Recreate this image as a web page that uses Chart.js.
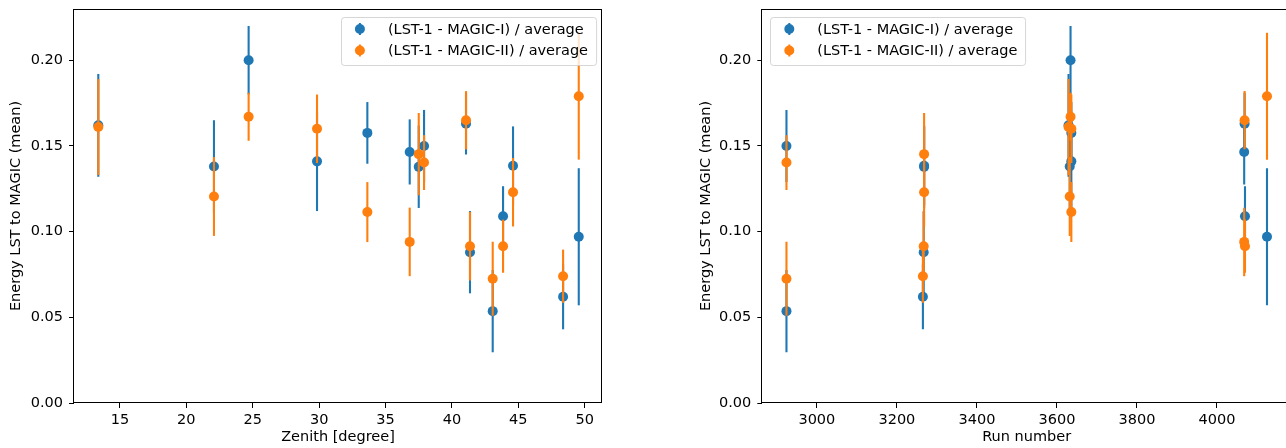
<!DOCTYPE html>
<html>
<head>
<meta charset="utf-8">
<script src="https://cdn.jsdelivr.net/npm/chart.js@4.4.0/dist/chart.umd.min.js"></script>
<style>
  html, body { margin: 0; padding: 0; background: #fff; overflow: hidden; }
  #wrap { position: relative; width: 1286px; height: 448px; overflow: hidden; }
  canvas { position: absolute; top: 0; }
  #zenithChart { left: 0; }
  #runChart { left: 690px; }
</style>
</head>
<body>
<div id="wrap">
  <canvas id="zenithChart" width="615" height="448"></canvas>
  <canvas id="runChart" width="610" height="448"></canvas>
</div>
<script>
// one entry per run
const zenith = [13.37, 22.08, 24.69, 29.84, 33.63, 36.82, 37.50, 37.90, 41.06, 41.36, 43.07, 43.85, 44.60, 48.37, 49.55];
const runNumber = [3629, 3632, 3634, 3636, 3636, 4068, 3268, 2924, 4069, 3267, 2924, 4070, 3268, 3265, 4125];

const ratioMagic1 = [0.162, 0.138, 0.200, 0.141, 0.1576, 0.1465, 0.1378, 0.150, 0.163, 0.088, 0.0536, 0.109, 0.1384, 0.062, 0.097];
const errMagic1 = [0.030, 0.027, 0.020, 0.029, 0.018, 0.019, 0.024, 0.021, 0.018, 0.024, 0.024, 0.0175, 0.023, 0.019, 0.040];
const ratioMagic2 = [0.161, 0.1205, 0.167, 0.160, 0.1114, 0.094, 0.1452, 0.1403, 0.165, 0.0915, 0.0725, 0.0915, 0.123, 0.074, 0.179];
const errMagic2 = [0.028, 0.023, 0.014, 0.020, 0.0175, 0.020, 0.024, 0.016, 0.017, 0.020, 0.0216, 0.0155, 0.020, 0.0155, 0.037];

const seriesLabels = ['(LST-1 - MAGIC-I) / average', '(LST-1 - MAGIC-II) / average'];
const seriesColors = ['#1f77b4', '#ff7f0e'];

const FONT = { family: '"DejaVu Sans", sans-serif', size: 14.5, lineHeight: 1.2 };

// vertical error bars, drawn just before the points of the same dataset
const errorBars = {
  id: 'errorBars',
  beforeDatasetDraw(chart, args) {
    const ds = chart.data.datasets[args.index];
    if (!ds.errors) return;
    const { ctx, chartArea, scales: { x, y } } = chart;
    ctx.save();
    ctx.beginPath();
    ctx.rect(chartArea.left, chartArea.top, chartArea.width, chartArea.height);
    ctx.clip();
    ctx.strokeStyle = ds.backgroundColor;
    ctx.lineWidth = 2.1;
    ds.data.forEach((p, i) => {
      const px = x.getPixelForValue(p.x);
      ctx.beginPath();
      ctx.moveTo(px, y.getPixelForValue(p.y - ds.errors[i]));
      ctx.lineTo(px, y.getPixelForValue(p.y + ds.errors[i]));
      ctx.stroke();
    });
    ctx.restore();
  }
};

// full box around the plot like matplotlib spines
const frame = {
  id: 'frame',
  afterDatasetsDraw(chart) {
    const { ctx, chartArea: a } = chart;
    const l = Math.round(a.left) - 0.5, t = Math.round(a.top) + 0.5;
    const r = Math.round(a.right) - 0.5, b = Math.round(a.bottom) - 0.5;
    ctx.save();
    ctx.strokeStyle = '#000';
    ctx.lineWidth = 1;
    ctx.strokeRect(l, t, r - l, b - t);
    ctx.restore();
  }
};

// legend inside the axes, errorbar-style markers
const boxLegend = {
  id: 'boxLegend',
  afterDraw(chart, args, opts) {
    const { ctx, chartArea } = chart;
    ctx.save();
    ctx.font = FONT.size + 'px ' + FONT.family;
    const labels = chart.data.datasets.map(d => d.label);
    const textW = Math.max(...labels.map(l => ctx.measureText(l).width));
    const w = 47 + textW + 8, h = 48;
    const left = opts.side === 'right' ? chartArea.right - 6 - w : chartArea.left + 8;
    const top = chartArea.top + 8;
    ctx.fillStyle = 'rgba(255,255,255,0.8)';
    ctx.strokeStyle = 'rgba(204,204,204,0.8)';
    ctx.lineWidth = 1;
    ctx.beginPath();
    ctx.roundRect(Math.round(left) + 0.5, top + 0.5, w, h, 3);
    ctx.fill();
    ctx.stroke();
    chart.data.datasets.forEach((d, i) => {
      const cy = top + 12 + i * 21.5;
      const cx = left + 19;
      ctx.strokeStyle = d.backgroundColor;
      ctx.lineWidth = 2;
      ctx.beginPath();
      ctx.moveTo(cx, cy - 6);
      ctx.lineTo(cx, cy + 6);
      ctx.stroke();
      ctx.fillStyle = d.backgroundColor;
      ctx.beginPath();
      ctx.arc(cx, cy, 5, 0, Math.PI * 2);
      ctx.fill();
      ctx.fillStyle = '#000';
      ctx.textBaseline = 'middle';
      ctx.textAlign = 'left';
      ctx.fillText(d.label, left + 47, cy + 1);
    });
    ctx.restore();
  }
};

function makeConfig(xs, xTitle, xMin, xMax, xStep, yWidth, padRight, legendSide) {
  const ratios = [ratioMagic1, ratioMagic2];
  const errs = [errMagic1, errMagic2];
  const datasets = seriesLabels.map((label, s) => ({
    label: label,
    data: xs.map((xv, i) => ({ x: xv, y: ratios[s][i] })),
    errors: errs[s],
    backgroundColor: seriesColors[s],
    borderColor: seriesColors[s],
    pointRadius: 5,
    pointBorderWidth: 0,
    pointHoverRadius: 5,
    showLine: false,
    order: 2 - s
  }));
  const tickGrid = { display: true, drawOnChartArea: false, drawTicks: true, tickLength: 5, tickColor: '#000', tickWidth: 1 };
  return {
    type: 'scatter',
    data: { datasets: datasets },
    options: {
      responsive: false,
      animation: false,
      devicePixelRatio: 1,
      layout: { padding: { top: 9, right: padRight, left: 0, bottom: 0 } },
      plugins: {
        legend: { display: false },
        tooltip: { enabled: false },
        boxLegend: { side: legendSide }
      },
      scales: {
        x: {
          type: 'linear',
          min: xMin,
          max: xMax,
          grid: tickGrid,
          border: { display: false },
          ticks: {
            stepSize: xStep,
            includeBounds: false,
            color: '#000',
            font: FONT,
            padding: 4,
            maxRotation: 0,
            callback: v => String(v)
          },
          title: { display: true, text: xTitle, color: '#000', font: FONT, padding: { top: 0, bottom: 2 } },
          afterFit: scale => {
            scale.height = 45;
            scale.paddingLeft = 0;
            scale.paddingRight = 0;
          }
        },
        y: {
          type: 'linear',
          min: 0,
          max: 0.2299,
          grid: tickGrid,
          border: { display: false },
          ticks: {
            stepSize: 0.05,
            includeBounds: false,
            color: '#000',
            font: FONT,
            padding: 6,
            callback: v => v.toFixed(2)
          },
          title: { display: true, text: 'Energy LST to MAGIC (mean)', color: '#000', font: FONT, padding: { top: 8, bottom: 0 } },
          afterFit: scale => {
            scale.width = yWidth;
            scale.paddingTop = 0;
            scale.paddingBottom = 0;
          }
        }
      }
    },
    plugins: [errorBars, frame, boxLegend]
  };
}

new Chart(
  document.getElementById('zenithChart'),
  makeConfig(zenith, 'Zenith [degree]', 11.54, 51.3, 5, 74, 13, 'right')
);
new Chart(
  document.getElementById('runChart'),
  makeConfig(runNumber, 'Run number', 2863.6, 4185, 200, 72.3, 9, 'left')
);
</script>
</body>
</html>
